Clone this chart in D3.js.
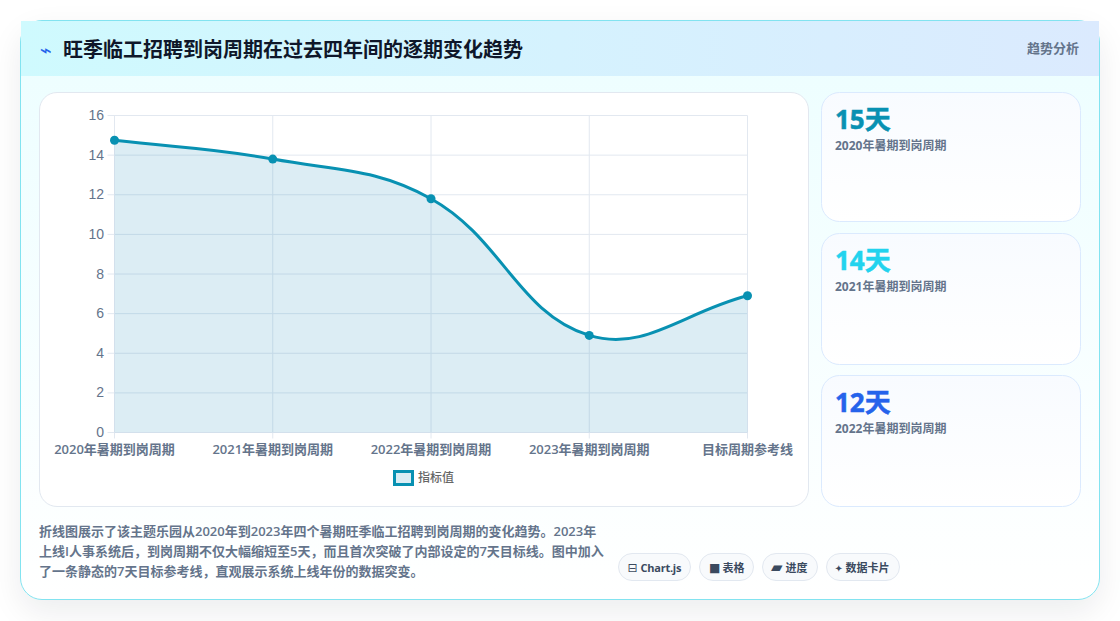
<!DOCTYPE html>
<html lang="zh">
<head>
<meta charset="utf-8">
<title>旺季临工招聘到岗周期</title>
<script src="https://cdn.jsdelivr.net/npm/d3@7/dist/d3.min.js"></script>
<style>
  html, body { margin: 0; padding: 0; background: #fff; overflow: hidden; }
  #stage { position: relative; width: 1120px; height: 621px; }
  svg { position: absolute; left: 0; top: 0; }
  text { font-family: "Open Sans", "Noto Sans CJK SC", sans-serif; }
  .card { position: absolute; box-sizing: border-box; }
</style>
</head>
<body>
<div id="stage">
  <div class="card" style="left:20px;top:20px;width:1080px;height:580px;border:1px solid #82e3f0;border-radius:22px;background:linear-gradient(180deg,#ecfeff 0%,#ffffff 100%);box-shadow:0 12px 32px rgba(15,23,42,.08);"></div>
  <div class="card" style="left:21px;top:21px;width:1078px;height:55px;background:linear-gradient(90deg,#cffafe 0%,#dbeafe 100%);"></div>
  <div class="card" style="left:39px;top:92px;width:770px;height:415px;background:#fff;border:1px solid #e2e8f0;border-radius:18px;"></div>
  <svg id="chart" width="1120" height="621"></svg>
</div>
<script>
// Series shown in the line chart
const categories = ["2020年暑期到岗周期", "2021年暑期到岗周期", "2022年暑期到岗周期", "2023年暑期到岗周期", "目标周期参考线"];
const cycleDays = [14.75, 13.8, 11.8, 4.9, 6.9];
const yTicks = [0, 2, 4, 6, 8, 10, 12, 14, 16];
const legendLabel = "指标值";

// Summary cards on the right
const statValues = ["15天", "14天", "12天"];
const statLabels = ["2020年暑期到岗周期", "2021年暑期到岗周期", "2022年暑期到岗周期"];
const statColors = ["#0891b2", "#22d3ee", "#2563eb"];

// Header and footer text
const titleIcon = "⌁";
const titleText = "旺季临工招聘到岗周期在过去四年间的逐期变化趋势";
const badgeText = "趋势分析";
const noteLines = [
  "折线图展示了该主题乐园从2020年到2023年四个暑期旺季临工招聘到岗周期的变化趋势。2023年",
  "上线I人事系统后，到岗周期不仅大幅缩短至5天，而且首次突破了内部设定的7天目标线。图中加入",
  "了一条静态的7天目标参考线，直观展示系统上线年份的数据突变。"
];
const chipIcons = ["⊟", "■", "▰", "✦"];
const chipLabels = ["Chart.js", "表格", "进度", "数据卡片"];

const svg = d3.select("#chart");
const inkDark = "#0f172a", slate = "#64748b", grid = "#e2e8f0", teal = "#0891b2";

// Cubic spline with tension 0.4, scaled by neighbouring segment lengths
function tensionCurve(context) {
  const TENSION = 0.4;
  let pts = [], lineState = NaN;
  return {
    areaStart() { lineState = 0; },
    areaEnd() { lineState = NaN; },
    lineStart() { pts = []; },
    point(x, y) { pts.push([+x, +y]); },
    lineEnd() {
      const ctrl = pts.map((p, i) => {
        const a = pts[i - 1] || p, b = pts[i + 1] || p;
        const d01 = Math.hypot(p[0] - a[0], p[1] - a[1]);
        const d12 = Math.hypot(b[0] - p[0], b[1] - p[1]);
        const sum = (d01 + d12) || 1;
        const fa = TENSION * d01 / sum, fb = TENSION * d12 / sum;
        return {
          prev: [p[0] - fa * (b[0] - a[0]), p[1] - fa * (b[1] - a[1])],
          next: [p[0] + fb * (b[0] - a[0]), p[1] + fb * (b[1] - a[1])]
        };
      });
      pts.forEach((p, i) => {
        if (i === 0) {
          if (lineState === 1) context.lineTo(p[0], p[1]); else context.moveTo(p[0], p[1]);
        } else {
          context.bezierCurveTo(ctrl[i - 1].next[0], ctrl[i - 1].next[1], ctrl[i].prev[0], ctrl[i].prev[1], p[0], p[1]);
        }
      });
      if (lineState === 1) context.closePath();
      lineState = 1 - lineState;
    }
  };
}

// Header
svg.append("text").attr("x", 40).attr("y", 57).attr("font-size", 20).attr("fill", "#2563eb")
  .style("font-family", "'DejaVu Sans'").text(titleIcon);
svg.append("text").attr("x", 63).attr("y", 57).attr("font-size", 20).attr("font-weight", 700)
  .attr("fill", inkDark).text(titleText);
svg.append("text").attr("x", 1079).attr("y", 53).attr("font-size", 13).attr("font-weight", 600)
  .attr("text-anchor", "end").attr("fill", slate).text(badgeText);

// Chart scales
const x = d3.scalePoint().domain(categories).range([114.5, 747.5]);
const y = d3.scaleLinear().domain([0, 16]).range([432.5, 115.5]);

// Gridlines and axes
const plot = svg.append("g");
const gridX = d3.axisBottom(x).offset(0).tickSize(-323).tickPadding(0).tickFormat("");
const gridY = d3.axisLeft(y).offset(0).tickValues(yTicks).tickSize(-640).tickPadding(0).tickFormat("");
const gx = plot.append("g").attr("transform", "translate(0,438.5)").call(gridX);
gx.select(".domain").remove();
gx.selectAll("line").attr("stroke", grid);
const gy = plot.append("g").attr("transform", "translate(107.5,0)").call(gridY);
gy.select(".domain").remove();
gy.selectAll(".tick line").attr("stroke", grid);

// Area and line
const data = categories.map((c, i) => ({ c, v: cycleDays[i] }));
const area = d3.area().x(d => x(d.c)).y0(y(0)).y1(d => y(d.v)).curve(tensionCurve);
const line = d3.line().x(d => x(d.c)).y(d => y(d.v)).curve(tensionCurve);
plot.append("path").datum(data).attr("d", area).attr("fill", "#0e86b4").attr("fill-opacity", 0.145);
plot.append("path").datum(data).attr("d", line).attr("fill", "none").attr("stroke", teal).attr("stroke-width", 3);
plot.selectAll("circle").data(data).join("circle")
  .attr("cx", d => x(d.c)).attr("cy", d => y(d.v)).attr("r", 4.5).attr("fill", teal);

// Axis labels
plot.append("g").selectAll("text").data(yTicks).join("text")
  .attr("x", 104).attr("y", d => y(d) + 4.5).attr("text-anchor", "end")
  .attr("font-size", 14).attr("fill", slate)
  .style("font-family", "'Liberation Sans'").text(d => d);
plot.append("g").selectAll("text").data(categories).join("text")
  .attr("x", d => x(d)).attr("y", 454).attr("text-anchor", "middle")
  .attr("font-size", 13).attr("font-weight", 600).attr("fill", slate).text(d => d);

// Legend
const legend = svg.append("g");
legend.append("rect").attr("x", 394.5).attr("y", 471.5).attr("width", 18).attr("height", 13)
  .attr("fill", "rgba(14,134,180,.15)").attr("stroke", teal).attr("stroke-width", 3);
legend.append("text").attr("x", 418).attr("y", 482).attr("font-size", 12).attr("font-weight", 500)
  .attr("fill", "#666").text(legendLabel);

// Summary cards
const defs = svg.append("defs");
const statGradient = defs.append("linearGradient").attr("id", "statFill").attr("x1", 0).attr("x2", 0).attr("y1", 0).attr("y2", 1);
statGradient.append("stop").attr("offset", "0%").attr("stop-color", "#f8fbff");
statGradient.append("stop").attr("offset", "100%").attr("stop-color", "#ffffff");
const statTops = [92.5, 233.5, 375.5], statHeights = [129, 131, 131];
const stats = svg.append("g").selectAll("g").data(statValues).join("g")
  .attr("transform", (d, i) => `translate(821.5,${statTops[i]})`);
stats.append("rect").attr("width", 259).attr("height", (d, i) => statHeights[i]).attr("rx", 18)
  .attr("fill", "url(#statFill)").attr("stroke", "#dbeafe");
stats.append("text").attr("x", 13.5).attr("y", 36).attr("font-size", 26).attr("font-weight", 700)
  .attr("stroke", (d, i) => statColors[i]).attr("stroke-width", 0.5)
  .attr("fill", (d, i) => statColors[i]).text(d => d);
stats.append("text").attr("x", 13.5).attr("y", 57).attr("font-size", 12).attr("font-weight", 700)
  .attr("fill", slate).text((d, i) => statLabels[i]);

// Footnote
svg.append("g").selectAll("text").data(noteLines).join("text")
  .attr("x", 39).attr("y", (d, i) => 536 + i * 20).attr("font-size", 13).attr("font-weight", 600)
  .attr("fill", slate).text(d => d);

// Feature chips
const chipLeft = [618.5, 699.5, 762.5, 826.5], chipWidths = [72, 54, 55, 73];
const chipIconX = [9, 9.5, 8.5, 8], chipLabelX = [22, 23, 23, 19], chipIconSize = [12, 12, 15, 10];
const chips = svg.append("g").selectAll("g").data(chipLabels).join("g")
  .attr("transform", (d, i) => `translate(${chipLeft[i]},553.5)`);
chips.append("rect").attr("width", (d, i) => chipWidths[i]).attr("height", 27).attr("rx", 13.5)
  .attr("fill", "#f8fafc").attr("stroke", "#e2e8f0");
chips.append("text").attr("x", (d, i) => chipIconX[i]).attr("y", 18).attr("font-size", (d, i) => chipIconSize[i])
  .attr("fill", "#3b4a5f").style("font-family", "'DejaVu Sans'").text((d, i) => chipIcons[i]);
chips.append("text").attr("x", (d, i) => chipLabelX[i]).attr("y", 18).attr("font-size", 11).attr("font-weight", 700)
  .attr("letter-spacing", (d, i) => i === 0 ? -0.25 : 0)
  .attr("fill", "#3b4a5f").text(d => d);
</script>
</body>
</html>
